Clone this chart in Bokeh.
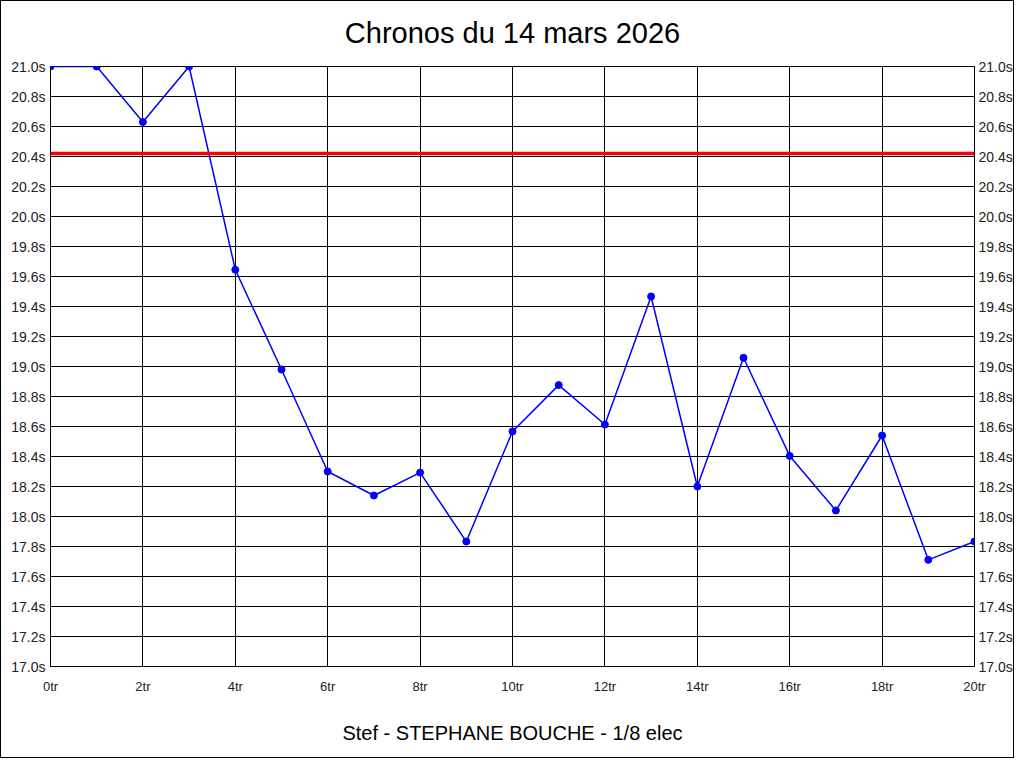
from bokeh.plotting import figure
from bokeh.models import (Range1d, LinearAxis, SingleIntervalTicker, PrintfTickFormatter,
                          Span)
from bokeh.embed import file_html
from bokeh.resources import INLINE

# Data
laps = list(range(21))
times = [21.0, 21.0, 20.63, 21.0, 19.645, 18.98, 18.30, 18.14, 18.293, 17.833,
         18.567, 18.876, 18.613, 19.467, 18.20, 19.058, 18.404, 18.04, 18.54,
         17.711, 17.833]
reference_time = 20.42
title_text = "Chronos du 14 mars 2026"
subtitle_text = "Stef - STEPHANE BOUCHE - 1/8 elec"

FONT = "Liberation Sans"

p = figure(width=1014, height=758, output_backend="svg", toolbar_location=None,
           x_range=Range1d(0, 20), y_range=Range1d(17, 21),
           min_border_left=49, min_border_right=41, min_border_top=65, min_border_bottom=93,
           background_fill_color="white", border_fill_color="white")
p.styles = {"border": "1px solid black"}

p.title.text = title_text
p.title.align = "center"
p.title.vertical_align = "top"
p.title.text_font = FONT
p.title.text_font_size = "29px"
p.title.text_font_style = "normal"
p.title.text_color = "black"
p.title.standoff = 31

p.outline_line_color = "black"
p.outline_line_alpha = 1

xt = SingleIntervalTicker(interval=2)
yt = SingleIntervalTicker(interval=0.2)

p.xaxis.ticker = xt
p.yaxis.ticker = yt
p.xaxis.formatter = PrintfTickFormatter(format="%dtr")
p.yaxis.formatter = PrintfTickFormatter(format="%.1fs")

right = LinearAxis(ticker=yt, formatter=PrintfTickFormatter(format="%.1fs"))
p.add_layout(right, "right")

for ax in [p.xaxis[0], p.yaxis[0], right]:
    ax.major_tick_line_color = None
    ax.minor_tick_line_color = None
    ax.major_tick_out = 0
    ax.major_tick_in = 0
    ax.minor_tick_out = 0
    ax.minor_tick_in = 0
    ax.axis_line_color = "black"
    ax.major_label_text_font = FONT
    ax.major_label_text_color = "#222222"
    ax.major_label_standoff = 5
p.yaxis[0].major_label_text_font_size = "14px"
right.major_label_text_font_size = "14px"
right.major_label_standoff = 4
xax = p.xaxis[0]
xax.major_label_text_font_size = "13px"
xax.major_label_standoff = 12

# subtitle under the chart, as the bottom axis label
xax.axis_label = subtitle_text
xax.axis_label_text_font = FONT
xax.axis_label_text_font_size = "20px"
xax.axis_label_text_font_style = "normal"
xax.axis_label_text_color = "black"
xax.axis_label_standoff = 25

p.xgrid.ticker = xt
p.ygrid.ticker = yt
p.xgrid.grid_line_color = "black"
p.ygrid.grid_line_color = "black"
p.xgrid.grid_line_alpha = 1
p.ygrid.grid_line_alpha = 1

p.add_layout(Span(location=reference_time, dimension="width", line_color="red", line_width=3.5))

p.line(laps, times, line_color="blue", line_width=1.5)
p.scatter(laps, times, size=7, fill_color="blue", line_color="blue")

open("out.html", "w").write(file_html(p, INLINE))
